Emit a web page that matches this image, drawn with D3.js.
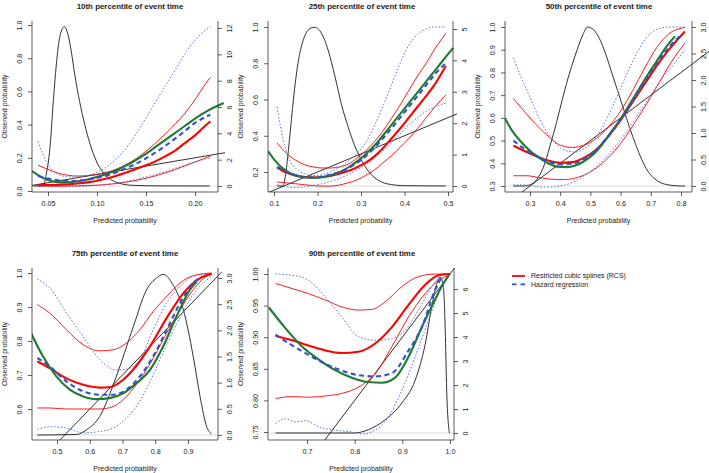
<!DOCTYPE html>
<html>
<head>
<meta charset="utf-8">
<script src="https://cdn.jsdelivr.net/npm/d3@7"></script>
<style>
  body { margin: 0; background: #fff; }
  svg { display: block; }
  text { font-family: 'Liberation Sans', Arial, Helvetica, sans-serif; fill: #1a1a1a; }
</style>
</head>
<body>
<script>
// ---- data: [predicted, observed] pairs, density as [predicted, density] ----
const titles = ['10th percentile of event time', '25th percentile of event time', '50th percentile of event time',
  '75th percentile of event time', '90th percentile of event time']
const legendLabels = ['Restricted cubic splines (RCS)', 'Hazard regression']

// 10th percentile
const p10XTicks = [0.05, 0.10, 0.15, 0.20]
const p10YTicks = [0, 0.2, 0.4, 0.6, 0.8, 1.0]
const p10RTicks = [0, 2, 4, 6, 8, 10, 12]
const p10Density = [[0.035,0],[0.045,0],[0.048,0.8],[0.052,2.9],[0.0555,6.5],[0.059,9.6],[0.0625,11.5],[0.0666,12.1],[0.0704,11.5],[0.0738,10.2],[0.0772,8.5],[0.0823,6.4],[0.0874,4.7],[0.0925,3.3],[0.0993,1.9],[0.106,1.05],[0.113,0.55],[0.123,0.2],[0.137,0.05],[0.16,0.01],[0.215,0]]
const p10Rcs = [[0.0398,0.036],[0.05,0.036],[0.06,0.037],[0.07,0.04],[0.08,0.045],[0.09,0.052],[0.10,0.062],[0.11,0.075],[0.12,0.092],[0.13,0.112],[0.14,0.133],[0.15,0.155],[0.16,0.18],[0.17,0.21],[0.18,0.245],[0.19,0.29],[0.20,0.335],[0.21,0.39],[0.2157,0.42]]
const p10RcsHi = [[0.0398,0.155],[0.05,0.13],[0.06,0.108],[0.07,0.095],[0.08,0.09],[0.09,0.092],[0.10,0.1],[0.11,0.113],[0.12,0.132],[0.13,0.16],[0.14,0.195],[0.15,0.24],[0.16,0.29],[0.17,0.345],[0.18,0.405],[0.19,0.47],[0.20,0.55],[0.21,0.64],[0.2157,0.685]]
const p10RcsLo = [[0.0398,0.03],[0.06,0.029],[0.08,0.031],[0.10,0.035],[0.12,0.045],[0.14,0.064],[0.16,0.092],[0.18,0.13],[0.20,0.175],[0.2157,0.21]]
const p10Hare = [[0.0398,0.09],[0.05,0.075],[0.06,0.065],[0.07,0.06],[0.08,0.062],[0.09,0.068],[0.10,0.079],[0.11,0.094],[0.12,0.113],[0.13,0.137],[0.14,0.165],[0.15,0.197],[0.16,0.233],[0.17,0.273],[0.18,0.317],[0.19,0.363],[0.20,0.41],[0.2157,0.46]]
const p10HareHi = [[0.0398,0.3],[0.045,0.22],[0.05,0.16],[0.055,0.122],[0.06,0.102],[0.07,0.086],[0.08,0.085],[0.09,0.094],[0.10,0.113],[0.11,0.145],[0.12,0.195],[0.13,0.26],[0.14,0.345],[0.15,0.44],[0.16,0.54],[0.17,0.635],[0.18,0.73],[0.19,0.83],[0.20,0.91],[0.21,0.965],[0.2157,0.99]]
const p10HareLo = [[0.0398,0.028],[0.06,0.024],[0.08,0.027],[0.10,0.034],[0.12,0.048],[0.14,0.07],[0.16,0.1],[0.18,0.137],[0.20,0.175],[0.2157,0.2]]
const p10Smooth = [[0.0337,0.12],[0.045,0.078],[0.055,0.058],[0.065,0.052],[0.075,0.054],[0.085,0.063],[0.095,0.077],[0.105,0.094],[0.115,0.115],[0.125,0.14],[0.135,0.17],[0.145,0.205],[0.155,0.245],[0.165,0.288],[0.175,0.33],[0.185,0.372],[0.195,0.415],[0.205,0.455],[0.215,0.49],[0.2293,0.53]]

// 25th percentile
const p25XTicks = [0.1, 0.2, 0.3, 0.4, 0.5]
const p25YTicks = [0.2, 0.4, 0.6, 0.8, 1.0]
const p25RTicks = [0, 1, 2, 3, 4, 5]
const p25Density = [[0.107,0],[0.12,0],[0.128,0.5],[0.135,1.4],[0.145,2.8],[0.155,3.9],[0.165,4.55],[0.175,4.9],[0.185,5.03],[0.195,5.05],[0.205,4.95],[0.215,4.7],[0.225,4.3],[0.24,3.5],[0.255,2.6],[0.27,1.9],[0.285,1.3],[0.30,0.85],[0.32,0.42],[0.34,0.18],[0.36,0.07],[0.40,0.01],[0.495,0]]
const p25Rcs = [[0.107,0.225],[0.13,0.195],[0.15,0.18],[0.17,0.172],[0.19,0.17],[0.21,0.172],[0.23,0.178],[0.25,0.19],[0.27,0.205],[0.29,0.225],[0.31,0.25],[0.33,0.285],[0.35,0.33],[0.37,0.385],[0.39,0.44],[0.41,0.5],[0.43,0.56],[0.45,0.62],[0.47,0.685],[0.495,0.785]]
const p25RcsHi = [[0.107,0.36],[0.13,0.3],[0.15,0.265],[0.17,0.24],[0.19,0.228],[0.21,0.222],[0.23,0.222],[0.25,0.228],[0.27,0.243],[0.29,0.275],[0.31,0.315],[0.33,0.365],[0.35,0.425],[0.37,0.495],[0.39,0.57],[0.41,0.65],[0.43,0.73],[0.45,0.8],[0.47,0.88],[0.495,0.965]]
const p25RcsLo = [[0.107,0.145],[0.13,0.14],[0.15,0.135],[0.17,0.13],[0.19,0.125],[0.21,0.122],[0.23,0.122],[0.25,0.128],[0.27,0.14],[0.29,0.155],[0.31,0.18],[0.33,0.21],[0.35,0.25],[0.37,0.29],[0.39,0.335],[0.41,0.385],[0.43,0.44],[0.45,0.5],[0.47,0.56],[0.495,0.625]]
const p25Hare = [[0.107,0.228],[0.13,0.2],[0.15,0.182],[0.17,0.172],[0.19,0.17],[0.21,0.175],[0.23,0.185],[0.25,0.2],[0.27,0.22],[0.29,0.25],[0.31,0.285],[0.33,0.33],[0.35,0.385],[0.37,0.44],[0.39,0.5],[0.41,0.56],[0.43,0.62],[0.45,0.68],[0.47,0.74],[0.495,0.8]]
const p25HareHi = [[0.107,0.56],[0.115,0.45],[0.125,0.34],[0.135,0.27],[0.15,0.22],[0.17,0.19],[0.19,0.18],[0.21,0.185],[0.23,0.2],[0.25,0.225],[0.27,0.26],[0.29,0.3],[0.31,0.36],[0.33,0.45],[0.35,0.56],[0.37,0.68],[0.39,0.8],[0.41,0.9],[0.43,0.96],[0.45,0.99],[0.47,1.0],[0.495,1.0]]
const p25HareLo = [[0.107,0.13],[0.13,0.118],[0.15,0.115],[0.17,0.118],[0.19,0.125],[0.21,0.135],[0.23,0.148],[0.25,0.165],[0.27,0.185],[0.29,0.21],[0.31,0.24],[0.33,0.275],[0.35,0.315],[0.37,0.36],[0.39,0.41],[0.41,0.46],[0.43,0.5],[0.45,0.535],[0.47,0.56],[0.495,0.58]]
const p25Smooth = [[0.086,0.315],[0.1,0.27],[0.12,0.22],[0.14,0.19],[0.16,0.175],[0.18,0.168],[0.2,0.168],[0.22,0.175],[0.24,0.19],[0.26,0.21],[0.28,0.24],[0.3,0.275],[0.32,0.32],[0.34,0.37],[0.36,0.43],[0.38,0.49],[0.4,0.55],[0.42,0.61],[0.44,0.67],[0.46,0.73],[0.48,0.79],[0.5,0.85],[0.512,0.885]]

// 50th percentile
const p50XTicks = [0.3, 0.4, 0.5, 0.6, 0.7, 0.8]
const p50YTicks = [0.3, 0.4, 0.5, 0.6, 0.7, 0.8, 0.9, 1.0]
const p50RTicks = [0, 0.5, 1.0, 1.5, 2.0, 2.5, 3.0]
const p50Density = [[0.245,0],[0.28,0],[0.30,0.02],[0.322,0.12],[0.344,0.35],[0.366,0.75],[0.388,1.2],[0.41,1.7],[0.432,2.15],[0.455,2.55],[0.477,2.88],[0.49,3.0],[0.51,2.95],[0.53,2.78],[0.55,2.5],[0.57,2.15],[0.59,1.8],[0.61,1.45],[0.63,1.1],[0.65,0.78],[0.67,0.5],[0.69,0.28],[0.71,0.15],[0.73,0.07],[0.76,0.02],[0.80,0],[0.813,0]]
const p50Rcs = [[0.245,0.477],[0.28,0.455],[0.32,0.432],[0.36,0.412],[0.40,0.402],[0.44,0.405],[0.48,0.425],[0.52,0.46],[0.56,0.52],[0.60,0.59],[0.64,0.67],[0.68,0.75],[0.72,0.83],[0.76,0.9],[0.813,0.98]]
const p50RcsHi = [[0.245,0.686],[0.28,0.63],[0.32,0.57],[0.36,0.52],[0.40,0.48],[0.44,0.47],[0.48,0.48],[0.52,0.51],[0.56,0.56],[0.60,0.63],[0.64,0.72],[0.68,0.82],[0.72,0.91],[0.76,0.97],[0.813,0.998]]
const p50RcsLo = [[0.245,0.345],[0.29,0.345],[0.33,0.337],[0.37,0.33],[0.41,0.328],[0.45,0.335],[0.49,0.355],[0.53,0.39],[0.57,0.44],[0.61,0.505],[0.65,0.585],[0.69,0.67],[0.73,0.76],[0.77,0.85],[0.813,0.93]]
const p50Hare = [[0.245,0.5],[0.28,0.465],[0.32,0.432],[0.36,0.408],[0.40,0.395],[0.44,0.398],[0.48,0.42],[0.52,0.46],[0.56,0.52],[0.60,0.59],[0.64,0.675],[0.68,0.76],[0.72,0.84],[0.76,0.91],[0.80,0.965]]
const p50HareHi = [[0.245,0.865],[0.27,0.78],[0.30,0.69],[0.33,0.6],[0.36,0.53],[0.39,0.48],[0.42,0.455],[0.45,0.45],[0.48,0.465],[0.51,0.5],[0.54,0.56],[0.57,0.64],[0.60,0.73],[0.63,0.82],[0.66,0.9],[0.69,0.96],[0.72,0.99],[0.76,1.0],[0.813,1.0]]
const p50HareLo = [[0.245,0.305],[0.28,0.305],[0.31,0.3],[0.34,0.295],[0.37,0.295],[0.40,0.3],[0.43,0.31],[0.46,0.33],[0.49,0.355],[0.52,0.385],[0.55,0.425],[0.58,0.47],[0.61,0.52],[0.64,0.58],[0.67,0.64],[0.70,0.7],[0.73,0.76],[0.76,0.81],[0.79,0.86],[0.813,0.9]]
const p50Smooth = [[0.217,0.598],[0.24,0.545],[0.27,0.495],[0.30,0.455],[0.33,0.425],[0.36,0.4],[0.39,0.385],[0.42,0.383],[0.45,0.39],[0.48,0.41],[0.51,0.44],[0.54,0.485],[0.57,0.54],[0.60,0.595],[0.63,0.66],[0.66,0.725],[0.69,0.79],[0.72,0.85],[0.75,0.91],[0.78,0.96]]

// 75th percentile
const p75XTicks = [0.5, 0.6, 0.7, 0.8, 0.9]
const p75YTicks = [0.6, 0.7, 0.8, 0.9, 1.0]
const p75RTicks = [0, 0.5, 1.0, 1.5, 2.0, 2.5, 3.0]
const p75Density = [[0.44,0],[0.56,0.01],[0.59,0.1],[0.63,0.35],[0.68,1.1],[0.733,2.07],[0.773,2.77],[0.804,3.0],[0.824,3.07],[0.855,2.86],[0.886,2.39],[0.916,1.5],[0.937,0.73],[0.957,0.16],[0.972,0.02]]
const p75Rcs = [[0.44,0.74],[0.478,0.72],[0.529,0.69],[0.58,0.671],[0.631,0.663],[0.661,0.664],[0.702,0.686],[0.733,0.716],[0.784,0.784],[0.835,0.868],[0.886,0.941],[0.937,0.985],[0.972,0.998]]
const p75RcsHi = [[0.44,0.907],[0.478,0.882],[0.529,0.833],[0.58,0.789],[0.631,0.771],[0.671,0.774],[0.712,0.794],[0.753,0.833],[0.794,0.887],[0.835,0.931],[0.876,0.971],[0.916,0.992],[0.972,1.0]]
const p75RcsLo = [[0.44,0.603],[0.478,0.603],[0.529,0.6],[0.58,0.6],[0.631,0.6],[0.671,0.607],[0.712,0.637],[0.753,0.686],[0.794,0.75],[0.835,0.823],[0.876,0.892],[0.916,0.951],[0.957,0.99],[0.972,0.995]]
const p75Hare = [[0.44,0.75],[0.478,0.725],[0.529,0.681],[0.58,0.652],[0.631,0.642],[0.671,0.642],[0.712,0.657],[0.753,0.696],[0.794,0.755],[0.835,0.833],[0.876,0.912],[0.916,0.971],[0.937,0.985]]
const p75HareHi = [[0.44,0.982],[0.478,0.956],[0.529,0.882],[0.58,0.813],[0.631,0.745],[0.682,0.715],[0.712,0.717],[0.753,0.745],[0.794,0.833],[0.835,0.912],[0.876,0.961],[0.916,0.99],[0.972,0.998]]
const p75HareLo = [[0.44,0.54],[0.478,0.548],[0.529,0.544],[0.58,0.53],[0.631,0.534],[0.671,0.544],[0.712,0.573],[0.753,0.623],[0.794,0.701],[0.835,0.79],[0.876,0.869],[0.916,0.937],[0.972,0.99]]
const p75Smooth = [[0.421,0.823],[0.457,0.755],[0.498,0.696],[0.539,0.657],[0.58,0.637],[0.62,0.629],[0.661,0.632],[0.702,0.646],[0.743,0.676],[0.784,0.715],[0.824,0.784],[0.865,0.872],[0.906,0.951],[0.927,0.975]]

// 90th percentile
const p90XTicks = [0.7, 0.8, 0.9, 1.0]
const p90YTicks = [0.75, 0.80, 0.85, 0.90, 0.95, 1.00]
const p90RTicks = [0, 1, 2, 3, 4, 5, 6]
const p90Density = [[0.634,0],[0.80,0],[0.829,0.14],[0.864,0.55],[0.899,1.25],[0.927,2.2],[0.948,3.7],[0.962,5.3],[0.972,6.2],[0.979,6.5],[0.986,6.1],[0.99,4.3],[0.993,1.8],[0.997,0.28],[0.999,0]]
const p90Rcs = [[0.634,0.902],[0.669,0.895],[0.703,0.887],[0.738,0.879],[0.773,0.875],[0.808,0.877],[0.843,0.89],[0.878,0.916],[0.913,0.951],[0.948,0.983],[0.976,0.998],[1.0,1.0]]
const p90RcsHi = [[0.634,0.985],[0.669,0.977],[0.703,0.969],[0.738,0.959],[0.773,0.948],[0.808,0.943],[0.836,0.944],[0.864,0.956],[0.899,0.98],[0.934,0.996],[0.969,1.0],[1.0,1.0]]
const p90RcsLo = [[0.634,0.803],[0.669,0.806],[0.703,0.805],[0.738,0.807],[0.773,0.811],[0.808,0.821],[0.843,0.842],[0.878,0.885],[0.913,0.932],[0.948,0.969],[0.976,0.99],[1.0,0.998]]
const p90Hare = [[0.634,0.904],[0.669,0.887],[0.703,0.872],[0.738,0.858],[0.773,0.847],[0.808,0.84],[0.843,0.838],[0.878,0.843],[0.913,0.879],[0.941,0.916],[0.969,0.975],[0.983,0.996]]
const p90HareHi = [[0.634,1.0],[0.669,0.998],[0.703,0.99],[0.738,0.964],[0.773,0.932],[0.808,0.901],[0.843,0.895],[0.878,0.898],[0.906,0.911],[0.934,0.943],[0.962,0.98],[0.983,0.998],[1.0,1.0]]
const p90HareLo = [[0.634,0.763],[0.655,0.771],[0.676,0.766],[0.697,0.768],[0.725,0.758],[0.759,0.753],[0.794,0.75],[0.815,0.747],[0.843,0.753],[0.871,0.774],[0.899,0.816],[0.927,0.869],[0.955,0.927],[0.976,0.969],[0.997,0.998]]
const p90Smooth = [[0.62,0.947],[0.655,0.914],[0.69,0.885],[0.724,0.865],[0.759,0.848],[0.794,0.836],[0.829,0.829],[0.857,0.828],[0.885,0.836],[0.913,0.869],[0.941,0.916],[0.969,0.96],[0.986,0.985],[0.997,0.997]]

// ---- layout (pixels) ----
const W = 709, H = 473
const panels = [
  { title: titles[0], left: 32, right: 218, clipRight: 225, top: 21, bottom: 192, clip: [0, 237],
    xRef: [0.05, 0.20], xPx: [48, 195], yRef: [0, 1], yPx: [191, 25], rRef: [0, 12], rPx: [186, 28],
    xTicks: p10XTicks, yTicks: p10YTicks, rTicks: p10RTicks, xFmt: '.2f', yFmt: '.1f', rFmt: 'd', titleX: 130,
    density: p10Density, rcs: p10Rcs, rcsHi: p10RcsHi, rcsLo: p10RcsLo, hare: p10Hare, hareHi: p10HareHi, hareLo: p10HareLo, smooth: p10Smooth },
  { title: titles[1], left: 268, right: 453, clipRight: 457, top: 21, bottom: 192, clip: [237, 472],
    xRef: [0.1, 0.5], xPx: [274, 448], yRef: [0.2, 1.0], yPx: [172, 27], rRef: [0, 5], rPx: [186, 29],
    xTicks: p25XTicks, yTicks: p25YTicks, rTicks: p25RTicks, xFmt: '.1f', yFmt: '.1f', rFmt: 'd', titleX: 362,
    density: p25Density, rcs: p25Rcs, rcsHi: p25RcsHi, rcsLo: p25RcsLo, hare: p25Hare, hareHi: p25HareHi, hareLo: p25HareLo, smooth: p25Smooth },
  { title: titles[2], left: 505, right: 692, clipRight: 709, top: 21, bottom: 192, clip: [472, 709],
    xRef: [0.3, 0.8], xPx: [530, 681], yRef: [0.3, 1.0], yPx: [186, 27], rRef: [0, 3], rPx: [186, 27],
    xTicks: p50XTicks, yTicks: p50YTicks, rTicks: p50RTicks, xFmt: '.1f', yFmt: '.1f', rFmt: '.1f', titleX: 599,
    density: p50Density, rcs: p50Rcs, rcsHi: p50RcsHi, rcsLo: p50RcsLo, hare: p50Hare, hareHi: p50HareHi, hareLo: p50HareLo, smooth: p50Smooth },
  { title: titles[3], left: 32, right: 218, clipRight: 222, top: 268, bottom: 440, clip: [0, 237],
    xRef: [0.5, 0.9], xPx: [57, 188], yRef: [0.6, 1.0], yPx: [409, 273], rRef: [0, 3], rPx: [435, 278],
    xTicks: p75XTicks, yTicks: p75YTicks, rTicks: p75RTicks, xFmt: '.1f', yFmt: '.1f', rFmt: '.1f', titleX: 125,
    density: p75Density, rcs: p75Rcs, rcsHi: p75RcsHi, rcsLo: p75RcsLo, hare: p75Hare, hareHi: p75HareHi, hareLo: p75HareLo, smooth: p75Smooth },
  { title: titles[4], left: 268, right: 454, clipRight: 460, top: 268, bottom: 440, clip: [237, 472],
    xRef: [0.7, 1.0], xPx: [307, 450], yRef: [0.75, 1.0], yPx: [432, 274], rRef: [0, 6], rPx: [433, 289],
    xTicks: p90XTicks, yTicks: p90YTicks, rTicks: p90RTicks, xFmt: '.1f', yFmt: '.2f', rFmt: 'd', titleX: 362,
    density: p90Density, rcs: p90Rcs, rcsHi: p90RcsHi, rcsLo: p90RcsLo, hare: p90Hare, hareHi: p90HareHi, hareLo: p90HareLo, smooth: p90Smooth }
]

const RED = '#ff0000', BLUE = '#3152c8', BLUE_LT = '#5b78dc', GREEN = '#1c7a32', INK = '#1a1a1a'
const TICK_FS = 7.2, LAB_FS = 7, TITLE_FS = 7.9

const svg = d3.select('body').append('svg').attr('width', W).attr('height', H)
svg.append('rect').attr('width', W).attr('height', H).attr('fill', '#fff')
const defs = svg.append('defs')

panels.forEach(drawPanel)
drawLegend()

function drawPanel(p, i) {
  let x = d3.scaleLinear().domain(p.xRef).range(p.xPx)
  let yL = d3.scaleLinear().domain(p.yRef).range(p.yPx)
  let yR = d3.scaleLinear().domain(p.rRef).range(p.rPx)

  defs.append('clipPath').attr('id', 'outer' + i).append('rect')
    .attr('x', p.clip[0]).attr('y', 0).attr('width', p.clip[1] - p.clip[0]).attr('height', H)
  defs.append('clipPath').attr('id', 'plot' + i).append('rect')
    .attr('x', p.left).attr('y', p.top).attr('width', p.clipRight - p.left).attr('height', p.bottom - p.top)

  let g = svg.append('g').attr('clip-path', `url(#outer${i})`)
  let plot = g.append('g').attr('clip-path', `url(#plot${i})`)

  let lineL = d3.line().x(d => x(d[0])).y(d => yL(d[1])).curve(d3.curveMonotoneX)
  let lineR = d3.line().x(d => x(d[0])).y(d => yR(d[1])).curve(d3.curveMonotoneX)

  // zero line of the density axis
  plot.append('line')
    .attr('x1', p.left).attr('x2', p.right).attr('y1', yR(0)).attr('y2', yR(0))
    .attr('stroke', '#d4d4d4').attr('stroke-width', 0.8)

  let addPath = (d, stroke, width, dash) => plot.append('path')
    .attr('d', d).attr('fill', 'none').attr('stroke', stroke).attr('stroke-width', width)
    .attr('stroke-dasharray', dash || null).attr('stroke-linejoin', 'round')

  addPath(lineR(p.density), INK, 0.9)
  let lo = x.invert(p.left), hi = x.invert(p.clipRight)
  addPath(d3.line().x(d => x(d)).y(d => yL(d))([lo, hi]), INK, 0.9)

  addPath(lineL(p.rcsHi), RED, 0.9)
  addPath(lineL(p.rcsLo), RED, 0.9)
  addPath(lineL(p.hareHi), BLUE_LT, 1, '1.6,1.8')
  addPath(lineL(p.hareLo), BLUE_LT, 1, '1.6,1.8')
  addPath(lineL(p.rcs), RED, 2.1)
  addPath(lineL(p.smooth), GREEN, 2.1)
  addPath(lineL(p.hare), BLUE, 2.1, '5,3.5')

  // open box: left, bottom, right
  g.append('path')
    .attr('d', `M${p.left},${p.top}V${p.bottom}H${p.right}V${p.top}`)
    .attr('fill', 'none').attr('stroke', '#333').attr('stroke-width', 0.8)

  let styleAxis = sel => {
    sel.select('.domain').remove()
    sel.selectAll('.tick line').attr('stroke', '#333').attr('stroke-width', 0.8)
    sel.selectAll('.tick text').attr('font-size', TICK_FS).attr('fill', INK)
      .attr('font-family', "'Liberation Sans', Arial, sans-serif")
  }

  g.append('g').attr('transform', `translate(0,${p.bottom})`)
    .call(d3.axisBottom(x).tickValues(p.xTicks).tickFormat(d3.format(p.xFmt)).tickSize(4))
    .call(styleAxis)
    .selectAll('.tick text').attr('y', 11).attr('dy', '0.35em')

  g.append('g').attr('transform', `translate(${p.left},0)`)
    .call(d3.axisLeft(yL).tickValues(p.yTicks).tickFormat(d3.format(p.yFmt)).tickSize(4))
    .call(styleAxis)
    .selectAll('.tick text')
    .attr('transform', 'rotate(-90)').attr('text-anchor', 'middle')
    .attr('x', 0).attr('y', -13).attr('dy', '0.35em')

  g.append('g').attr('transform', `translate(${p.right},0)`)
    .call(d3.axisRight(yR).tickValues(p.rTicks).tickFormat(d3.format(p.rFmt)).tickSize(4))
    .call(styleAxis)
    .selectAll('.tick text')
    .attr('transform', 'rotate(-90)').attr('text-anchor', 'middle')
    .attr('x', 0).attr('y', 11).attr('dy', '0.35em')

  let midY = (p.top + p.bottom) / 2
  g.append('text').attr('x', p.titleX).attr('y', p.top - 12.5)
    .attr('text-anchor', 'middle').attr('font-size', TITLE_FS).attr('font-weight', 'bold')
    .text(p.title)
  g.append('text').attr('x', (p.left + p.right) / 2).attr('y', p.bottom + 29).attr('dy', '0.35em')
    .attr('text-anchor', 'middle').attr('font-size', LAB_FS).text('Predicted probability')
  g.append('text').attr('transform', `translate(${p.left - 27},${midY}) rotate(-90)`).attr('dy', '0.35em')
    .attr('text-anchor', 'middle').attr('font-size', LAB_FS).text('Observed probability')
}

function drawLegend() {
  let lg = svg.append('g').attr('transform', 'translate(512,276)')
  let rows = [{ color: RED, dash: null }, { color: BLUE, dash: '4.5,4' }]
  rows.forEach((r, i) => {
    lg.append('line').attr('x1', 0).attr('x2', 13).attr('y1', i * 8.3).attr('y2', i * 8.3)
      .attr('stroke', r.color).attr('stroke-width', 1.8).attr('stroke-dasharray', r.dash)
    lg.append('text').attr('x', 19).attr('y', i * 8.3).attr('dy', '0.35em')
      .attr('font-size', LAB_FS).text(legendLabels[i])
  })
}
</script>
</body>
</html>
